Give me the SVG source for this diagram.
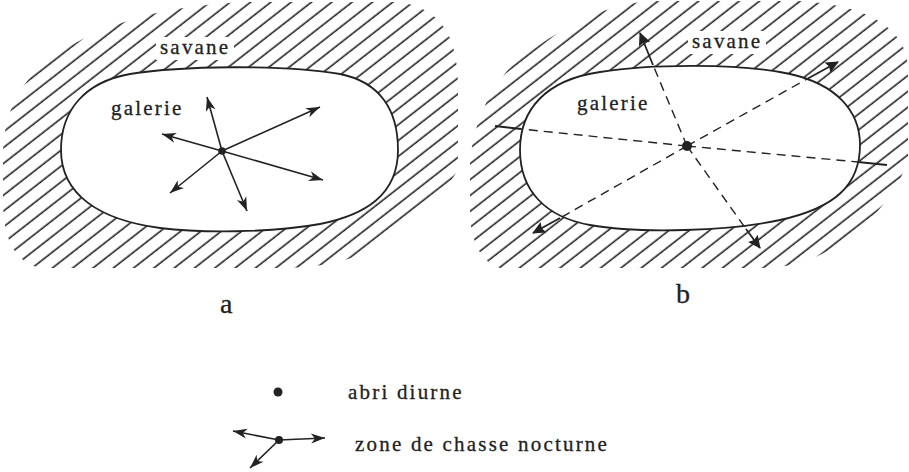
<svg xmlns="http://www.w3.org/2000/svg" width="909" height="472" viewBox="0 0 909 472">
<style>
.lbl{font-family:"Liberation Serif",serif;font-size:21px;letter-spacing:2.2px;fill:#222;stroke:#222;stroke-width:0.3}
.big{font-family:"Liberation Serif",serif;font-size:28px;fill:#222;stroke:#222;stroke-width:0.3}
.blob{fill:#fff;stroke:#222;stroke-width:1.8}
.arr{stroke:#222;stroke-width:1.6;fill:none;marker-end:url(#ah)}
.dash{stroke:#222;stroke-width:1.4;fill:none;stroke-dasharray:9 6}
.sol{stroke:#222;stroke-width:1.8;fill:none}
.solA{stroke:#222;stroke-width:1.8;fill:none;marker-end:url(#ahb)}
</style>
<defs>
<pattern id="hatch" patternUnits="userSpaceOnUse" width="20" height="12.5" patternTransform="rotate(-38)">
<line x1="-2" y1="6" x2="22" y2="6" stroke="#222" stroke-width="1.6"/>
</pattern>
<marker id="ah" viewBox="-16 -6 18 12" refX="0" refY="0" markerWidth="18" markerHeight="12" markerUnits="userSpaceOnUse" orient="auto">
<path d="M0,0 L-14,-5 L-10,0 L-14,5 Z" fill="#222"/>
</marker>
<marker id="ahb" viewBox="-14 -7 16 14" refX="0" refY="0" markerWidth="16" markerHeight="14" markerUnits="userSpaceOnUse" orient="auto">
<path d="M1,0 L-12,-6 L-10,0 L-12,6 Z" fill="#222"/>
</marker>
</defs>
<rect width="909" height="472" fill="#fff"/>

<g id="figure-a">
<path id="savane-a" d="M 45,62 C 90,30 150,5 250,2 L 400,2 C 445,10 458,40 458,90 L 458,170 C 440,200 410,225 380,245 C 350,262 320,268 280,268 L 40,268 C 15,262 3,240 3,200 L 3,150 C 5,110 20,85 45,62 Z" fill="url(#hatch)"/>
<rect x="156" y="37" width="78" height="23" fill="#fff"/>
<text class="lbl" x="160" y="54">savane</text>
<path id="galerie-a" class="blob" d="M 61,150 C 61,110 85,82 130,74 C 180,66 280,64 340,74 C 380,82 398,110 398,150 C 398,195 365,215 320,224 C 270,233 200,233 160,228 C 100,220 61,195 61,150 Z"/>
<text class="lbl" x="111" y="115">galerie</text>
</g>

<g id="figure-b">
<path id="savane-b" d="M 520,58 C 560,30 600,5 650,1 L 800,1 C 870,5 908,30 908,70 L 908,160 C 895,200 860,235 820,255 C 800,265 780,268 760,268 L 500,268 C 480,262 470,240 470,210 L 470,160 C 475,115 495,80 520,58 Z" fill="url(#hatch)"/>
<rect x="688" y="31" width="78" height="23" fill="#fff"/>
<text class="lbl" x="692" y="48">savane</text>
<path id="galerie-b" class="blob" d="M 520,150 C 520,110 545,80 600,72 C 650,64 740,63 790,74 C 835,84 860,110 860,145 C 860,185 835,208 780,220 C 730,231 640,234 590,225 C 545,217 520,190 520,150 Z"/>
<text class="lbl" x="577" y="110">galerie</text>
</g>

<g id="connectors">
<line class="arr" x1="222" y1="151" x2="207" y2="97"/>
<line class="arr" x1="222" y1="151" x2="320" y2="107"/>
<line class="arr" x1="222" y1="151" x2="162" y2="134"/>
<line class="arr" x1="222" y1="151" x2="323" y2="180"/>
<line class="arr" x1="222" y1="151" x2="170" y2="193"/>
<line class="arr" x1="222" y1="151" x2="247" y2="211"/>

<line class="dash" x1="687" y1="146" x2="653" y2="65"/>
<line class="solA" x1="653" y1="65" x2="640" y2="33"/>
<line class="dash" x1="687" y1="146" x2="807" y2="79"/>
<line class="solA" x1="807" y1="79" x2="838" y2="62"/>
<line class="dash" x1="687" y1="146" x2="521" y2="129"/>
<line class="sol" x1="521" y1="129" x2="495" y2="126"/>
<line class="dash" x1="687" y1="146" x2="858" y2="162"/>
<line class="sol" x1="858" y1="162" x2="887" y2="165"/>
<line class="dash" x1="687" y1="146" x2="560" y2="218"/>
<line class="solA" x1="560" y1="218" x2="533" y2="233"/>
<line class="dash" x1="687" y1="146" x2="746" y2="229"/>
<line class="solA" x1="746" y1="229" x2="760" y2="248"/>

<line class="arr" x1="279" y1="440" x2="233" y2="431"/>
<line class="arr" x1="279" y1="440" x2="325" y2="438"/>
<line class="arr" x1="279" y1="440" x2="250" y2="468"/>
</g>

<g id="abri-a"><circle cx="222" cy="151" r="3.8" fill="#222"/></g>
<g id="abri-b"><circle cx="687" cy="146" r="5" fill="#222"/></g>

<text class="big" x="220" y="313">a</text>
<text class="big" x="676" y="303">b</text>

<g id="legend">
<g id="legend-abri">
<circle cx="278" cy="392" r="4.5" fill="#222"/>
<text class="lbl" x="348" y="399">abri diurne</text>
</g>
<g id="legend-zone">
<circle cx="279" cy="440" r="4" fill="#222"/>
<text class="lbl" x="355" y="451">zone de chasse nocturne</text>
</g>
</g>
</svg>
